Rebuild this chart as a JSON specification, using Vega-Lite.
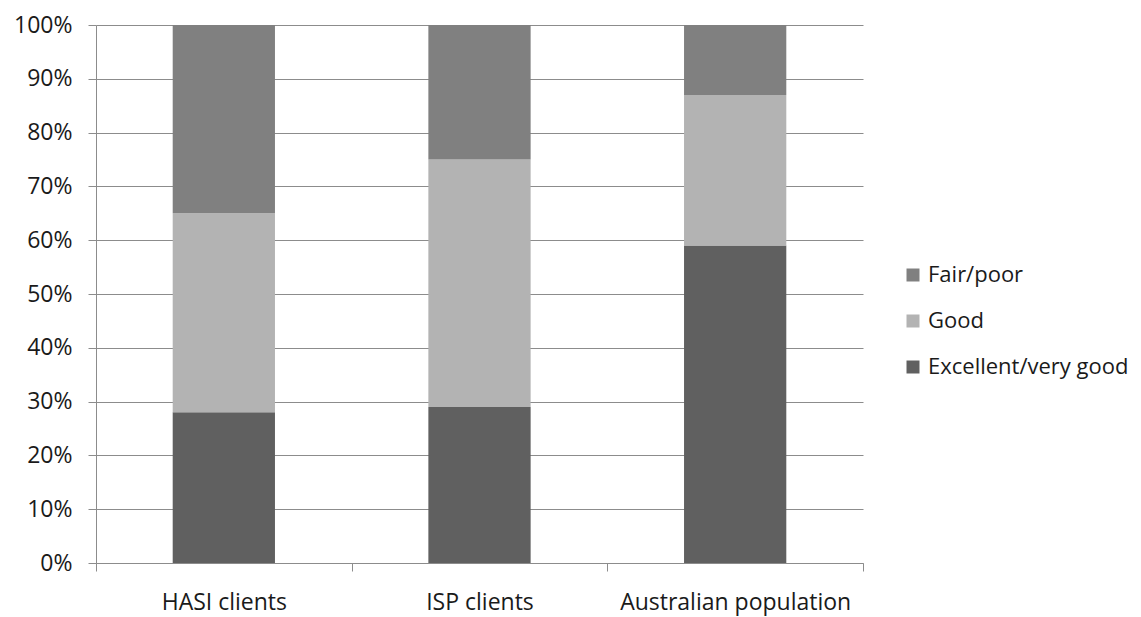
{
  "$schema": "https://vega.github.io/schema/vega-lite/v6.json",
  "width": 767,
  "height": 538,
  "autosize": {"type": "none"},
  "padding": {"left": 96, "top": 25, "right": 278, "bottom": 54},
  "background": "white",
  "config": {
    "view": {"stroke": null},
    "font": "Open Sans",
    "axis": {
      "domainColor": "#8c8c8c",
      "tickColor": "#8c8c8c",
      "gridColor": "#8c8c8c",
      "labelColor": "#1a1a1a",
      "labelFont": "Open Sans",
      "labelFontSize": 23,
      "labelOverlap": false,
      "labelLimit": 0,
      "title": null
    }
  },
  "data": {
    "values": [
      {"group": "HASI clients", "rating": "Excellent/very good", "value": 28},
      {"group": "HASI clients", "rating": "Good", "value": 37},
      {"group": "HASI clients", "rating": "Fair/poor", "value": 35},
      {"group": "ISP clients", "rating": "Excellent/very good", "value": 29},
      {"group": "ISP clients", "rating": "Good", "value": 46},
      {"group": "ISP clients", "rating": "Fair/poor", "value": 25},
      {"group": "Australian population", "rating": "Excellent/very good", "value": 59},
      {"group": "Australian population", "rating": "Good", "value": 28},
      {"group": "Australian population", "rating": "Fair/poor", "value": 13}
    ]
  },
  "transform": [
    {"calculate": "indexof(['Excellent/very good','Good','Fair/poor'], datum.rating)", "as": "ord"}
  ],
  "mark": {"type": "bar", "width": {"band": 0.4}},
  "encoding": {
    "x": {
      "field": "group",
      "type": "nominal",
      "sort": ["HASI clients", "ISP clients", "Australian population"],
      "scale": {"paddingInner": 0, "paddingOuter": 0},
      "axis": {
        "labelAngle": 0,
        "tickBand": "extent",
        "tickSize": 8,
        "labelPadding": 20,
        "domainWidth": 1
      }
    },
    "y": {
      "field": "value",
      "type": "quantitative",
      "stack": "normalize",
      "scale": {"domain": [0, 1]},
      "axis": {
        "format": ".0%",
        "values": [0, 0.1, 0.2, 0.3, 0.4, 0.5, 0.6, 0.7, 0.8, 0.9, 1],
        "tickSize": 8,
        "labelPadding": 16,
        "grid": true
      }
    },
    "color": {
      "field": "rating",
      "type": "nominal",
      "scale": {
        "domain": ["Fair/poor", "Good", "Excellent/very good"],
        "range": ["#808080", "#b3b3b3", "#606060"]
      },
      "legend": {
        "title": null,
        "orient": "none",
        "legendX": 806,
        "legendY": 239,
        "symbolType": "square",
        "symbolSize": 169,
        "symbolStrokeWidth": 0,
        "labelFontSize": 22,
        "labelFont": "Open Sans",
        "labelColor": "#1a1a1a",
        "labelOffset": 4,
        "labelLimit": 0,
        "rowPadding": 24
      }
    },
    "order": {"field": "ord", "type": "quantitative"}
  }
}
